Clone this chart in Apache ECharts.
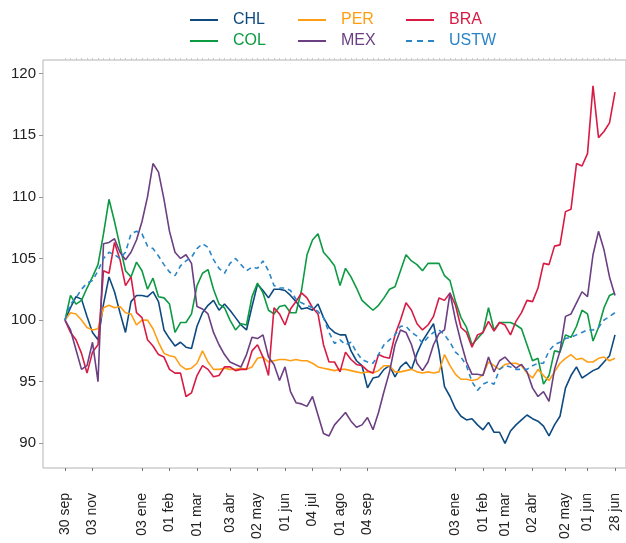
<!DOCTYPE html>
<html>
<head>
<meta charset="utf-8">
<script src="https://cdn.jsdelivr.net/npm/echarts@6/dist/echarts.min.js"></script>
<style>
html,body{margin:0;padding:0;background:#fff;}
#chart{width:626px;height:543px;}
</style>
</head>
<body>
<div id="chart"></div>
<script>
// Tick labels on the x axis and the sample index where each one sits
const tickLabels = ['30 sep','03 nov','03 ene','01 feb','01 mar','03 abr','02 may','01 jun','04 jul','01 ago','04 sep','03 ene','01 feb','01 mar','02 abr','02 may','01 jun','28 jun'];
const tickIdx = [0,5,14,19,24,30,35,40,45,50,55,71,76,80,85,91,95,100];
const yTicks = [90,95,100,105,110,115,120];

const CHL = [100,101.0,101.9,101.7,100.3,99.0,98.4,101.3,103.5,102.3,100.6,99.0,101.5,102.0,102.0,101.9,102.3,101.5,99.2,98.5,
97.9,98.2,97.8,97.7,99.5,100.6,101.2,101.6,100.8,101.3,100.8,100.2,99.6,99.2,101.1,102.9,102.4,101.8,102.5,102.5,
102.4,102.0,101.5,100.9,101.0,100.8,101.3,100.2,99.4,99.0,98.8,98.8,97.5,96.7,96.3,94.5,95.3,95.4,96.0,96.3,
95.4,96.2,96.6,96.0,97.3,98.3,99.0,99.7,97.5,94.6,93.8,92.8,92.2,91.9,92.0,91.5,91.1,91.7,90.9,90.9,
90.0,91.0,91.5,91.9,92.3,92.0,91.8,91.4,90.6,91.5,92.2,94.5,95.5,96.2,95.3,95.6,95.9,96.1,96.6,97.1,98.8];

const COL = [100,102.0,101.3,101.6,102.6,103.5,104.5,107.0,109.8,108.0,106.0,104.0,103.5,104.7,104.0,102.5,103.4,101.9,101.8,101.3,
99.0,99.8,99.8,100.5,102.8,103.8,104.1,102.5,101.3,101.0,100.0,99.2,99.7,99.6,101.9,103.0,102.2,100.8,100.5,101.1,
101.2,100.6,100.6,102.4,105.3,106.5,107.0,105.5,105.0,104.4,102.8,104.2,103.5,102.6,101.6,101.2,100.8,101.2,101.8,102.5,
102.7,104.0,105.3,104.8,104.5,104.0,104.6,104.6,104.6,103.6,103.2,101.5,100.2,99.4,98.0,98.5,99.0,101.0,99.2,99.8,
99.8,99.8,99.6,99.3,98.0,96.7,96.9,94.8,95.5,97.5,97.4,98.8,98.6,99.5,100.8,100.5,98.3,99.4,101.0,102.0,102.2];

const PER = [100,100.6,100.5,100.0,99.4,99.2,99.3,101.0,101.2,101.0,101.1,100.6,100.5,99.6,100.0,100.0,99.3,98.2,97.3,97.1,
97.0,96.3,96.0,96.1,96.5,97.5,96.6,96.0,96.0,96.1,96.0,96.0,96.1,96.0,96.2,96.9,97.0,96.6,96.7,96.8,
96.8,96.7,96.8,96.7,96.7,96.5,96.2,96.1,96.0,95.9,96.0,96.0,95.9,95.8,95.7,95.8,95.7,95.9,96.3,96.3,
95.8,95.8,95.9,96.0,95.8,95.7,95.8,95.7,95.8,97.2,96.3,95.6,95.2,95.2,95.1,95.2,95.6,96.6,96.3,96.0,
96.4,96.5,96.5,96.3,95.7,95.3,96.0,95.5,95.1,95.8,96.5,96.9,97.2,96.8,96.9,96.6,96.6,96.9,97.0,96.7,96.9];

const BRA = [100,99.0,98.4,97.3,95.7,97.4,98.0,104.0,103.8,106.3,104.9,102.8,103.5,100.6,100.2,98.4,97.9,97.2,97.0,96.0,
95.7,95.7,93.8,94.1,95.5,96.3,96.0,95.4,95.5,96.2,96.2,95.9,96.0,96.0,97.5,98.0,97.0,95.5,101.0,100.5,
99.6,100.9,101.5,102.2,101.8,101.0,100.5,98.0,96.6,96.6,95.8,97.4,96.8,96.4,96.3,95.9,95.7,97.2,97.0,96.9,
98.8,100.0,101.4,100.8,99.7,99.2,99.6,100.3,101.8,101.6,102.2,101.2,99.4,99.0,97.8,98.8,99.0,99.9,99.1,99.8,
99.6,98.8,99.9,100.6,101.6,101.5,102.6,104.6,104.5,106.0,106.1,108.8,109.0,112.7,112.5,113.5,119.0,114.8,115.3,116.0,118.5];

const MEX = [100,99.2,97.6,96.0,96.3,98.2,95.0,106.2,106.3,106.6,105.5,104.9,105.5,106.5,108.0,110.0,112.7,112.0,109.8,107.2,
105.5,105.0,105.3,104.6,101.1,100.9,100.5,99.0,98.0,97.2,96.6,96.4,96.2,97.2,98.6,98.5,98.8,97.0,96.4,95.1,
96.2,94.2,93.3,93.2,93.0,93.8,92.3,90.8,90.6,91.5,92.0,92.5,91.8,91.3,91.5,92.1,91.1,92.5,94.2,95.8,
98.0,99.2,99.0,98.0,96.5,95.9,96.6,98.0,98.9,99.2,102.2,100.0,98.2,96.6,95.6,95.6,95.5,97.0,95.8,96.7,
97.0,96.5,96.1,96.4,95.8,94.5,93.8,94.2,93.4,96.0,97.5,100.3,100.5,101.4,102.3,101.9,105.3,107.2,105.7,103.5,102.0];

const USTW = [100,101.3,101.8,102.5,103.0,103.2,104.0,105.0,105.5,105.3,105.0,105.5,107.0,107.2,107.0,106.0,105.8,105.2,104.5,103.9,
103.6,104.4,104.8,105.1,105.8,106.2,105.9,104.9,104.2,103.8,104.6,105.0,104.5,104.0,104.3,104.2,104.8,104.0,102.8,102.6,
102.6,102.4,101.7,101.4,101.2,101.0,100.7,100.2,99.0,98.1,98.4,98.0,98.2,97.4,96.8,96.6,96.5,97.2,98.0,98.4,
98.8,99.5,99.5,99.0,98.7,98.1,98.6,99.0,99.2,98.8,98.2,97.4,97.0,96.3,95.0,94.3,94.8,95.0,94.8,96.0,
96.3,96.2,96.0,96.0,96.0,96.3,96.5,96.5,97.5,98.0,98.2,98.5,98.6,98.8,99.0,99.2,99.2,99.4,100.0,100.3,100.6];

const seriesNames = ['CHL','COL','PER','BRA','MEX','USTW'];
const seriesData = [CHL, COL, PER, BRA, MEX, USTW];
const colors = {CHL:'#0d4a80', COL:'#0c9a42', PER:'#ff9e14', BRA:'#d81b45', MEX:'#6b3f82', USTW:'#2a85c8'};

const labelMap = {};
tickIdx.forEach((k, j) => { labelMap[k] = tickLabels[j]; });
const categories = CHL.map((_, i) => 'd' + i);

const FONT = '"Liberation Sans", Arial, sans-serif';
const SOLID_ICON = 'path://M0,0H28V2H0Z';
const DASH_ICON = 'path://M0,0H6V2H0Z M11,0H17V2H11Z M22,0H28V2H22Z';
const chart = echarts.init(document.getElementById('chart'), null, {renderer: 'canvas'});

function legendFor(names, left) {
  return {
    orient: 'vertical', left: left, top: 7, itemWidth: 28, itemHeight: 2, itemGap: 5,
    selectedMode: false, symbolKeepAspect: false,
    data: names.map(n => ({name: n, icon: n === 'USTW' ? DASH_ICON : SOLID_ICON,
                           itemStyle: {color: colors[n]}, textStyle: {color: colors[n]}})),
    textStyle: {fontSize: 16, fontFamily: FONT, padding: [0, 0, 0, 10]}
  };
}

const option = {
  backgroundColor: '#ffffff',
  animation: false,
  textStyle: {fontFamily: FONT},
  legend: [legendFor(['CHL','COL'], 185), legendFor(['PER','MEX'], 293), legendFor(['BRA','USTW'], 401)],
  grid: [
    {left: 43, right: 0, top: 60, bottom: 75, show: true, borderColor: '#b4b4b4', borderWidth: 1, backgroundColor: 'transparent', containLabel: false, outerBoundsMode: 'none'},
    {left: 65, right: 11, top: 60, bottom: 75, containLabel: false, outerBoundsMode: 'none'}
  ],
  xAxis: [
    {gridIndex: 0, type: 'value', show: false},
    {gridIndex: 1, type: 'category', data: categories, boundaryGap: false,
     axisLine: {show: false},
     axisTick: {show: true, length: 3, interval: (i) => labelMap[i] !== undefined, lineStyle: {color: '#777', width: 1}},
     axisLabel: {show: true, rotate: 90, margin: 25, fontSize: 14, color: '#222', fontFamily: FONT,
                 interval: (i) => labelMap[i] !== undefined,
                 formatter: (v, i) => labelMap[i] !== undefined ? labelMap[i] : ''},
     splitLine: {show: false}},
    {gridIndex: 1, type: 'category', data: categories, boundaryGap: false,
     axisLine: {show: false},
     axisTick: {show: true, length: 2, interval: 0, lineStyle: {color: '#c8c8c8', width: 1}},
     axisLabel: {show: false}, splitLine: {show: false}}
  ],
  yAxis: [
    {gridIndex: 0, type: 'value', min: 88, max: 121.1,
     axisLine: {show: false},
     axisTick: {show: true, length: 4, customValues: yTicks, lineStyle: {color: '#999'}},
     axisLabel: {fontSize: 15, color: '#222', margin: 7, fontFamily: FONT, customValues: yTicks,
                 formatter: (v) => (Math.abs(v % 5) < 1e-6 ? String(v) : '')},
     splitLine: {show: false}},
    {gridIndex: 1, type: 'value', min: 88, max: 121.1, show: false, splitLine: {show: false}}
  ],
  series: seriesNames.map((n, k) => ({
    name: n, type: 'line', xAxisIndex: 1, yAxisIndex: 1,
    data: seriesData[k], symbol: 'none', showSymbol: false,
    color: colors[n],
    lineStyle: {color: colors[n], width: 1.6, type: n === 'USTW' ? [5, 4] : 'solid'},
    itemStyle: {color: colors[n]},
    emphasis: {disabled: true}
  }))
};
chart.setOption(option);
</script>
</body>
</html>
